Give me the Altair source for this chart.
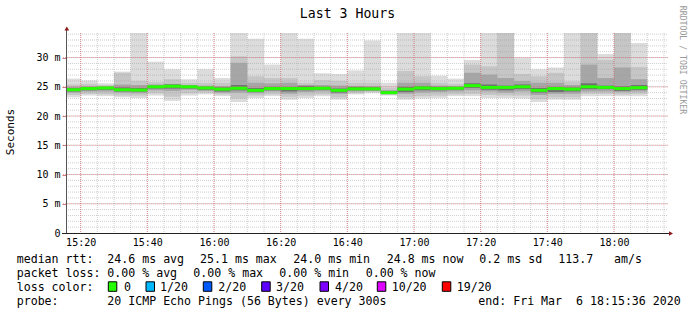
import altair as alt
import pandas as pd

# ---------------- data ----------------
bar_start = ["15:15", "15:20", "15:25", "15:30", "15:35", "15:40", "15:45", "15:50", "15:55",
             "16:00", "16:05", "16:10", "16:15", "16:20", "16:25", "16:30", "16:35", "16:40",
             "16:45", "16:50", "16:55", "17:00", "17:05", "17:10", "17:15", "17:20", "17:25",
             "17:30", "17:35", "17:40", "17:45", "17:50", "17:55", "18:00", "18:05"]
rtt_max = [26.4, 26.1, 25.6, 27.6, 34.2, 29.3, 28.0, 26.3, 28.0, 26.5, 34.2, 33.2, 28.8, 34.2,
           33.2, 27.3, 27.2, 27.8, 32.9, 25.7, 34.2, 34.2, 26.9, 26.4, 29.6, 34.2, 34.2, 29.9,
           28.0, 28.3, 34.2, 34.2, 30.6, 34.2, 32.5]
rtt_hi2 = [25.4, 25.5, 25.3, 27.4, 26.0, 25.8, 26.3, 25.7, 25.7, 25.7, 30.2, 26.8, 26.5, 26.5,
           25.7, 26.1, 26.0, 25.7, 25.7, 24.8, 27.7, 26.8, 25.7, 25.5, 28.8, 28.5, 34.2, 27.2,
           26.8, 27.4, 25.9, 34.2, 29.6, 34.2, 28.4]
rtt_hi3 = [25.0, 25.0, 25.0, 25.4, 25.3, 25.4, 25.5, 25.3, 25.2, 25.1, 29.1, 25.7, 25.6, 25.7,
           25.2, 25.3, 25.2, 25.1, 25.1, 24.4, 25.7, 25.7, 25.2, 25.1, 27.4, 27.1, 26.5, 26.0,
           25.7, 25.7, 25.3, 28.8, 26.5, 28.3, 26.3]
rtt_hi4 = [24.8, 25.0, 25.0, 24.9, 24.8, 25.2, 25.4, 25.2, 25.0, 24.9, 25.3, 24.8, 25.0, 25.0,
           25.2, 25.0, 24.7, 25.0, 24.9, 24.3, 25.0, 25.1, 25.0, 25.0, 25.6, 25.4, 25.2, 25.4,
           24.8, 25.0, 24.9, 25.6, 25.2, 25.1, 25.3]
rtt_median = [24.5, 24.7, 24.8, 24.5, 24.45, 25.0, 25.1, 25.0, 24.8, 24.6, 24.75, 24.4, 24.7, 24.7,
              24.7, 24.75, 24.4, 24.65, 24.65, 24.0, 24.6, 24.8, 24.7, 24.75, 25.2, 24.9, 24.9, 25.0,
              24.4, 24.7, 24.6, 25.0, 24.9, 24.7, 24.85]
rtt_lo4 = [24.2, 24.4, 24.5, 24.2, 24.2, 24.7, 24.7, 24.7, 24.5, 24.2, 24.4, 24.1, 24.4, 24.2,
           24.4, 24.5, 24.0, 24.4, 24.4, 23.9, 24.1, 24.4, 24.4, 24.5, 24.8, 24.5, 24.4, 24.6,
           24.0, 24.1, 24.2, 24.6, 24.6, 24.3, 24.5]
rtt_lo3 = [24.0, 24.2, 24.2, 24.0, 23.9, 24.4, 24.3, 24.5, 24.3, 24.0, 24.0, 23.9, 24.2, 23.8,
           24.1, 24.2, 23.8, 24.2, 24.3, 23.8, 23.8, 24.0, 24.1, 24.2, 24.4, 24.2, 24.0, 24.2,
           23.6, 23.8, 23.8, 24.2, 24.2, 24.1, 24.2]
rtt_lo2 = [23.6, 23.8, 23.7, 23.5, 23.5, 23.9, 23.3, 23.9, 24.0, 23.7, 23.0, 23.5, 23.7, 23.3,
           23.5, 23.7, 23.2, 23.9, 24.1, 23.6, 23.2, 23.4, 23.5, 23.7, 23.8, 23.6, 23.5, 23.5,
           22.9, 23.2, 23.2, 23.8, 23.8, 23.7, 23.8]
rtt_min = [23.2, 23.5, 23.4, 23.2, 23.1, 23.5, 22.6, 23.5, 23.7, 23.4, 22.4, 23.1, 23.4, 22.8,
           23.1, 23.4, 22.8, 23.7, 23.9, 23.5, 22.8, 23.0, 23.1, 23.4, 23.4, 23.1, 23.1, 23.0,
           22.4, 22.8, 22.8, 23.4, 23.4, 23.4, 23.4]

x_tick_values = [20, 40, 60, 80, 100, 120, 140, 160, 180]     # minutes after 15:00
y_tick_values = [0, 5, 10, 15, 20, 25, 30]                    # ms

stat_labels = ["median rtt:", "packet loss:", "loss color:", "probe:"]
median_stats = ["24.6 ms avg", "25.1 ms max", "24.0 ms min", "24.8 ms now", "0.2 ms sd", "113.7", "am/s"]
loss_stats = ["0.00 % avg", "0.00 % max", "0.00 % min", "0.00 % now"]
loss_names = ["0", "1/20", "2/20", "3/20", "4/20", "10/20", "19/20"]
loss_colors = ["#26ff00", "#00b8ff", "#0059ff", "#5e00ff", "#7e00ff", "#dd00ff", "#ff0000"]
probe_text = "20 ICMP Echo Pings (56 Bytes) every 300s"
end_text = "end: Fri Mar  6 18:15:36 2020"

# ---------------- frame ----------------
def to_min(s):
    h, m = s.split(":")
    return (int(h) - 15) * 60 + int(m)

df = pd.DataFrame({
    "t0": [to_min(s) for s in bar_start],
    "max": rtt_max, "hi2": rtt_hi2, "hi3": rtt_hi3, "hi4": rtt_hi4,
    "med": rtt_median, "lo4": rtt_lo4, "lo3": rtt_lo3, "lo2": rtt_lo2, "min": rtt_min,
})
df["t1"] = df["t0"] + 5

FONT = "DejaVu Sans Mono"
xs = alt.Scale(domain=[15.6, 195.6], nice=False, zero=False)
ys = alt.Scale(domain=[0, 34.2], nice=False, zero=False)
x_axis = alt.Axis(values=x_tick_values, grid=False, domain=False, ticks=False, title=None,
                  labelExpr="toString(15 + floor(datum.value / 60)) + ':' + (datum.value % 60 == 0 ? '00' : toString(datum.value % 60))",
                  labelFont=FONT, labelFontSize=10, labelColor="#000000", labelPadding=4,
                  labelFlush=False)
y_axis = alt.Axis(values=y_tick_values, grid=False, domain=False, ticks=True, tickSize=4,
                  tickColor="#d08080", title=None,
                  labelExpr="datum.value == 0 ? '0' : datum.value + ' m'",
                  labelFont=FONT, labelFontSize=10, labelColor="#000000", labelPadding=2)

OX, OY = 66, 33  # plot origin in page pixels

layers = []
for lo, hi, col in [("min", "max", "#dcdcdc"), ("lo2", "hi2", "#c6c6c6"),
                    ("lo3", "hi3", "#a6a6a6"), ("lo4", "hi4", "#707070")]:
    layers.append(
        alt.Chart(df).mark_rect(color=col, clip=True).encode(
            x=alt.X("t0:Q", scale=xs, axis=x_axis), x2="t1:Q",
            y=alt.Y(f"{lo}:Q", scale=ys, axis=y_axis), y2=f"{hi}:Q")
    )

# grid
minor_v = pd.DataFrame({"v": list(range(20, 196, 5))})
major_v = pd.DataFrame({"v": x_tick_values})
minor_h = pd.DataFrame({"v": list(range(1, 35))})
major_h = pd.DataFrame({"v": y_tick_values[1:]})
layers.append(alt.Chart(minor_v).mark_rule(color="#a0a0a0", strokeDash=[1, 1], opacity=0.5).encode(
    x=alt.X("v:Q", scale=xs, axis=x_axis), y=alt.value(0), y2=alt.value(200)))
layers.append(alt.Chart(minor_h).mark_rule(color="#a0a0a0", strokeDash=[1, 1], opacity=0.5).encode(
    y=alt.Y("v:Q", scale=ys, axis=y_axis), x=alt.value(0), x2=alt.value(602)))
layers.append(alt.Chart(major_v).mark_rule(color="#e06060", strokeDash=[1, 1], opacity=0.6).encode(
    x=alt.X("v:Q", scale=xs, axis=x_axis), y=alt.value(0), y2=alt.value(200)))
layers.append(alt.Chart(major_h).mark_rule(color="#e06060", strokeDash=[1, 1], opacity=0.6).encode(
    y=alt.Y("v:Q", scale=ys, axis=y_axis), x=alt.value(-3), x2=alt.value(602)))

# median line
layers.append(alt.Chart(df).mark_rule(color=loss_colors[0], strokeWidth=3, clip=True).encode(
    x=alt.X("t0:Q", scale=xs, axis=x_axis), x2="t1:Q",
    y=alt.Y("med:Q", scale=ys, axis=y_axis)))

one = pd.DataFrame({"a": [0]})
# axis lines and arrows
layers.append(alt.Chart(one).mark_rule(color="#555555", strokeWidth=1).encode(
    x=alt.value(0.5), y=alt.value(-3), y2=alt.value(200.5)))
layers.append(alt.Chart(one).mark_rule(color="#222222", strokeWidth=1).encode(
    x=alt.value(-4), x2=alt.value(604), y=alt.value(200.5)))
layers.append(alt.Chart(one).mark_point(shape="triangle-up", filled=True, size=22, color="#8b1a1a", opacity=1).encode(
    x=alt.value(0.8), y=alt.value(-4.5)))
layers.append(alt.Chart(one).mark_point(shape="triangle-right", filled=True, size=22, color="#8b1a1a", opacity=1).encode(
    x=alt.value(605), y=alt.value(200.5)))

def txt(x, y, s, size=11.6, color="#000000", angle=0, align="left", baseline="alphabetic"):
    s = s.replace("  ", "\u00a0\u00a0")
    return alt.Chart(one).mark_text(text=s, font=FONT, fontSize=size, color=color, angle=angle,
                                    align=align, baseline=baseline).encode(
        x=alt.value(x - OX), y=alt.value(y - OY))

layers.append(txt(347.5, 18.3, "Last 3 Hours", size=13.2, align="center"))
layers.append(txt(10.5, 132, "Seconds", size=11, angle=270, align="center", baseline="middle"))
layers.append(txt(682, 60, "RRDTOOL / TOBI OETIKER", size=8.2, color="#9a9a9a", angle=90,
                  align="center", baseline="middle"))

# statistics block
line_y = [263.3, 277.3, 291.0, 305.0]
for i, lab in enumerate(stat_labels):
    layers.append(txt(16.7, line_y[i], lab))
for s, x in zip(median_stats, [107.3, 200.0, 293.3, 386.7, 479.3, 558.3, 614.0]):
    layers.append(txt(x, line_y[0], s))
for s, x in zip(loss_stats, [107.3, 193.3, 279.3, 365.7]):
    layers.append(txt(x, line_y[1], s))
box_x = [108.3, 146.0, 203.3, 261.7, 320.0, 377.3, 442.3]
lab_x = [124.0, 160.0, 218.3, 276.0, 335.0, 391.7, 456.7]
for bx, lx, name, col in zip(box_x, lab_x, loss_names, loss_colors):
    layers.append(alt.Chart(one).mark_rect(fill=col, stroke="#000000", strokeWidth=1).encode(
        x=alt.value(bx - OX), x2=alt.value(bx - OX + 8.5),
        y=alt.value(281.8 - OY), y2=alt.value(291.3 - OY)))
    layers.append(txt(lx, line_y[2], name))
layers.append(txt(107.3, line_y[3], probe_text))
layers.append(txt(478.3, line_y[3], end_text))

chart = alt.layer(*layers).properties(
    width=600, height=200,
    padding={"left": OX, "top": OY, "right": 697 - OX - 600, "bottom": 315 - OY - 200},
    autosize=alt.AutoSizeParams(type="none"),
    background="#ffffff",
).configure_view(stroke=None)

chart.save("out.html", embed_options={"renderer": "svg", "actions": False})
